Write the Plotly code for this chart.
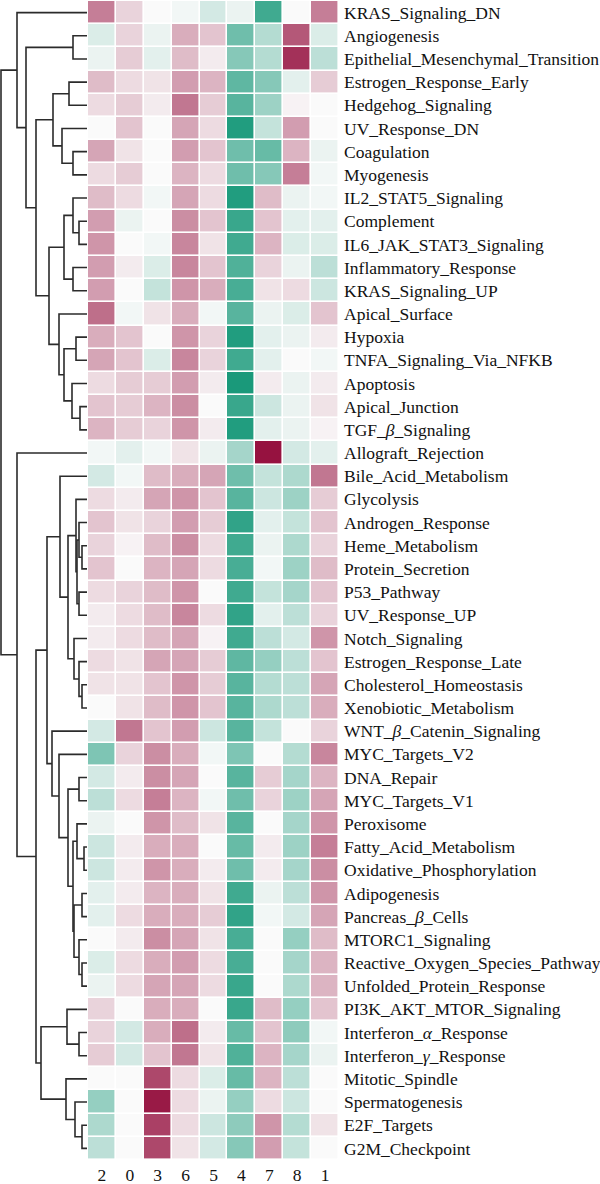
import plotly.graph_objects as go

# ---------------- data ----------------
columns = ["2", "0", "3", "6", "5", "4", "7", "8", "1"]

pathways = [
    "KRAS_Signaling_DN", "Angiogenesis", "Epithelial_Mesenchymal_Transition",
    "Estrogen_Response_Early", "Hedgehog_Signaling", "UV_Response_DN", "Coagulation",
    "Myogenesis", "IL2_STAT5_Signaling", "Complement", "IL6_JAK_STAT3_Signaling",
    "Inflammatory_Response", "KRAS_Signaling_UP", "Apical_Surface", "Hypoxia",
    "TNFA_Signaling_Via_NFKB", "Apoptosis", "Apical_Junction", "TGF_<i>β</i>_Signaling",
    "Allograft_Rejection", "Bile_Acid_Metabolism", "Glycolysis", "Androgen_Response",
    "Heme_Metabolism", "Protein_Secretion", "P53_Pathway", "UV_Response_UP",
    "Notch_Signaling", "Estrogen_Response_Late", "Cholesterol_Homeostasis",
    "Xenobiotic_Metabolism", "WNT_<i>β</i>_Catenin_Signaling", "MYC_Targets_V2",
    "DNA_Repair", "MYC_Targets_V1", "Peroxisome", "Fatty_Acid_Metabolism",
    "Oxidative_Phosphorylation", "Adipogenesis", "Pancreas_<i>β</i>_Cells",
    "MTORC1_Signaling", "Reactive_Oxygen_Species_Pathway", "Unfolded_Protein_Response",
    "PI3K_AKT_MTOR_Signaling", "Interferon_<i>α</i>_Response", "Interferon_<i>γ</i>_Response",
    "Mitotic_Spindle", "Spermatogenesis", "E2F_Targets", "G2M_Checkpoint",
]

# scaled scores, columns in order 2,0,3,6,5,4,7,8,1
scores = [
    [1.6, 0.5, 0.0, -0.1, -0.5, -0.2, -2.4, 0.0, 1.6],
    [-0.4, 0.5, -0.2, 1.0, 0.7, -1.8, -0.9, 2.1, -0.4],
    [-0.2, 0.6, -0.3, 0.8, 0.2, -1.5, -0.9, 2.6, -0.8],
    [0.8, 0.4, 0.3, 1.2, 0.9, -2.0, -1.5, -0.3, 0.6],
    [0.4, 0.6, 0.2, 1.7, 0.6, -2.1, -1.2, 0.1, 0.0],
    [0.0, 0.7, 0.0, 1.1, 0.4, -2.8, -0.7, 1.2, 0.0],
    [1.1, 0.3, 0.0, 1.2, 0.7, -1.8, -1.9, 0.9, -0.2],
    [0.4, 0.6, 0.0, 0.9, 0.4, -1.8, -1.5, 1.6, -0.1],
    [0.8, 0.4, -0.1, 1.1, 0.4, -2.8, 0.8, -0.2, -0.1],
    [1.2, -0.2, 0.0, 1.4, 0.7, -2.5, 0.7, -0.3, -0.3],
    [1.3, 0.0, -0.1, 1.5, 0.3, -2.4, 0.9, -0.4, -0.4],
    [1.2, 0.2, -0.4, 1.5, 0.7, -2.2, 0.5, -0.2, -0.8],
    [1.2, 0.0, -0.7, 1.3, 1.0, -2.3, 0.3, 0.4, -0.6],
    [1.8, -0.1, 0.3, 1.0, -0.1, -2.1, -0.2, -0.4, 0.7],
    [1.0, 0.7, 0.0, 1.3, 0.5, -2.8, -0.3, -0.2, 0.2],
    [1.1, 0.7, -0.4, 1.5, 0.5, -2.4, -0.3, 0.0, -0.1],
    [0.4, 0.6, 0.6, 1.2, 0.2, -2.9, 0.2, -0.2, 0.2],
    [0.7, 0.6, 0.9, 1.4, 0.0, -2.5, -0.6, -0.2, 0.3],
    [0.9, 0.6, 0.5, 1.3, 0.2, -2.8, -0.3, -0.2, 0.1],
    [-0.1, -0.3, -0.1, 0.3, -0.2, -1.1, 3.0, -0.5, -0.3],
    [-0.5, -0.1, 0.8, 1.0, 1.1, -1.8, -0.7, -1.0, 1.7],
    [0.4, 0.2, 1.1, 1.3, 0.7, -2.1, -0.6, -1.2, 0.6],
    [0.7, 0.3, 0.5, 1.2, 0.6, -2.6, -0.3, -0.7, 0.7],
    [0.5, 0.1, 0.8, 1.4, 0.4, -2.4, -0.2, -1.0, 0.5],
    [0.7, 0.0, 0.9, 1.1, 0.4, -2.3, -0.1, -1.2, 0.8],
    [0.4, 0.5, 0.8, 1.3, 0.0, -2.4, -0.7, -1.1, 0.7],
    [0.2, 0.4, 0.8, 1.5, 0.4, -2.6, -0.3, -0.8, 0.5],
    [0.2, 0.4, 0.8, 1.1, 0.1, -2.4, -0.8, -0.5, 1.3],
    [0.4, 0.3, 1.1, 1.1, 0.6, -2.0, -1.3, -0.8, 0.7],
    [0.3, 0.3, 0.7, 1.3, 0.6, -2.1, -0.9, -0.8, 1.1],
    [0.0, 0.3, 0.8, 1.3, 0.7, -2.1, -1.0, -0.8, 1.0],
    [-0.5, 1.7, 0.7, 1.2, -0.6, -2.1, -0.7, 0.0, 0.5],
    [-1.6, 0.5, 1.4, 1.0, -0.1, -1.6, 0.0, -0.9, 1.5],
    [-0.5, 0.2, 1.4, 1.1, 0.0, -2.1, 0.6, -1.1, 0.9],
    [-0.8, 0.4, 1.6, 0.9, -0.1, -1.8, 0.5, -1.2, 1.1],
    [-0.2, 0.0, 1.3, 0.8, 0.3, -2.1, 0.0, -1.1, 1.3],
    [-0.6, 0.2, 1.0, 1.0, 0.0, -1.9, 0.2, -1.2, 1.6],
    [-0.6, 0.2, 1.3, 1.0, 0.2, -1.8, 0.2, -1.1, 1.4],
    [-0.3, 0.2, 0.9, 1.0, 0.3, -2.4, -0.2, -0.8, 1.3],
    [-0.3, 0.4, 1.0, 1.0, 0.6, -2.6, -0.1, -0.5, 1.1],
    [0.0, 0.2, 1.4, 1.1, 0.3, -2.3, 0.0, -1.3, 0.8],
    [-0.4, 0.4, 1.0, 1.2, 0.4, -2.3, 0.0, -1.1, 0.9],
    [-0.2, 0.4, 1.1, 1.1, 0.4, -2.5, 0.0, -1.0, 0.9],
    [0.5, 0.0, 1.0, 1.0, 0.0, -2.5, 0.8, -1.3, 0.7],
    [0.5, -0.5, 1.0, 1.8, 0.2, -1.9, 0.7, -1.4, -0.1],
    [0.6, -0.5, 0.7, 1.7, 0.3, -2.2, 0.9, -1.1, -0.2],
    [0.0, 0.0, 2.3, 0.4, -0.4, -1.9, 0.9, -0.8, 0.0],
    [-1.3, 0.0, 2.9, 0.4, -0.2, -1.3, 0.4, -0.6, 0.0],
    [-1.0, 0.0, 2.4, 0.4, -0.6, -1.4, 1.3, -0.9, 0.3],
    [-0.8, 0.0, 2.3, 0.3, -0.5, -1.5, 1.2, -0.7, 0.0],
]

# row dendrogram: (name, left, right, height); ints are leaf rows
merges = [
    ("m1", 1, 2, 14), ("m2", 3, 4, 18), ("m3", 6, 7, 14), ("m4", 5, "m3", 25),
    ("m5", "m2", "m4", 34), ("m6", 9, 10, 8), ("m7", 8, "m6", 14), ("m8", 11, 12, 14),
    ("m9", "m7", "m8", 23), ("m10", 14, 15, 11), ("m11", 17, 18, 7), ("m12", 16, "m11", 15),
    ("m13", "m10", "m12", 23), ("m14", 13, "m13", 28), ("m15", "m9", "m14", 38),
    ("m16", "m5", "m15", 51), ("m17", "m1", "m16", 61), ("m18", 0, "m17", 70),
    ("m19", 23, 24, 5), ("m20", 22, "m19", 8), ("m21", 25, 26, 8), ("m22", "m20", "m21", 10),
    ("m23", 21, "m22", 11), ("m24", 29, 30, 5), ("m25", 28, "m24", 8), ("m26", 27, "m25", 13),
    ("m27", "m23", "m26", 19), ("m28", 20, "m27", 27), ("m29", 33, 34, 8), ("m30", 36, 37, 3),
    ("m31", 35, "m30", 10), ("m32", 38, 39, 5), ("m33", 41, 42, 5), ("m34", 40, "m33", 8),
    ("m35", "m32", "m34", 13), ("m36", "m31", "m35", 14), ("m37", "m29", "m36", 19),
    ("m38", 32, "m37", 28), ("m39", 31, "m38", 35), ("m40", "m28", "m39", 40),
    ("m41", 44, 45, 8), ("m42", 43, "m41", 20), ("m43", 48, 49, 5), ("m44", 47, "m43", 12),
    ("m45", 46, "m44", 21), ("m46", "m42", "m45", 46), ("m47", "m40", "m46", 51),
    ("m48", 19, "m47", 70), ("m49", "m18", "m48", 86),
]

# ---------------- figure ----------------
W, H = 600, 1184
heat_left, heat_right = 88, 339
heat_top, heat_bottom = 1, 1160
FONT = "Liberation Serif"

pos = {}
hts = {}
for i in range(len(pathways)):
    pos[i] = float(i)
    hts[i] = 0.0
dx, dy = [], []
for name, a, b, h in merges:
    ya, yb = pos[a], pos[b]
    dx += [hts[a], h, h, hts[b], None]
    dy += [ya, ya, yb, yb, None]
    pos[name] = (ya + yb) / 2
    hts[name] = h

colorscale = [
    [0.0, "rgb(18,150,118)"],
    [0.5, "rgb(250,250,250)"],
    [1.0, "rgb(150,18,64)"],
]

fig = go.Figure()
fig.add_trace(go.Scatter(
    x=dx, y=dy, mode="lines", xaxis="x", yaxis="y",
    line=dict(color="#2b2b2b", width=1.6), hoverinfo="skip", showlegend=False,
))
fig.add_trace(go.Heatmap(
    z=scores, x=list(range(len(columns))), y=list(range(len(pathways))),
    xaxis="x2", yaxis="y", colorscale=colorscale, zmin=-3, zmax=3,
    showscale=False, xgap=1.6, ygap=1.6,
))

ydom = [(H - heat_bottom) / H, (H - heat_top) / H]
fig.update_layout(
    width=W, height=H,
    margin=dict(l=0, r=0, t=0, b=0),
    paper_bgcolor="white", plot_bgcolor="white",
    font=dict(family=FONT, size=17.5, color="#111"),
    xaxis=dict(domain=[0, heat_left / W], range=[87, -1], visible=False,
               showgrid=False, zeroline=False),
    xaxis2=dict(domain=[heat_left / W, heat_right / W], range=[-0.5, len(columns) - 0.5],
                anchor="y", tickmode="array", tickvals=list(range(len(columns))),
                ticktext=columns, ticks="", showgrid=False, zeroline=False,
                showline=False, automargin=False, ticklabelstandoff=2,
                tickfont=dict(family=FONT, size=17.5, color="#111")),
    yaxis=dict(domain=ydom, range=[len(pathways) - 0.5, -0.5], anchor="x2", side="right",
               tickmode="array", tickvals=list(range(len(pathways))), ticktext=pathways,
               ticks="", showgrid=False, zeroline=False, showline=False,
               automargin=False, ticklabelstandoff=4,
               tickfont=dict(family=FONT, size=17.5, color="#111")),
)

fig.write_html("out.html")
